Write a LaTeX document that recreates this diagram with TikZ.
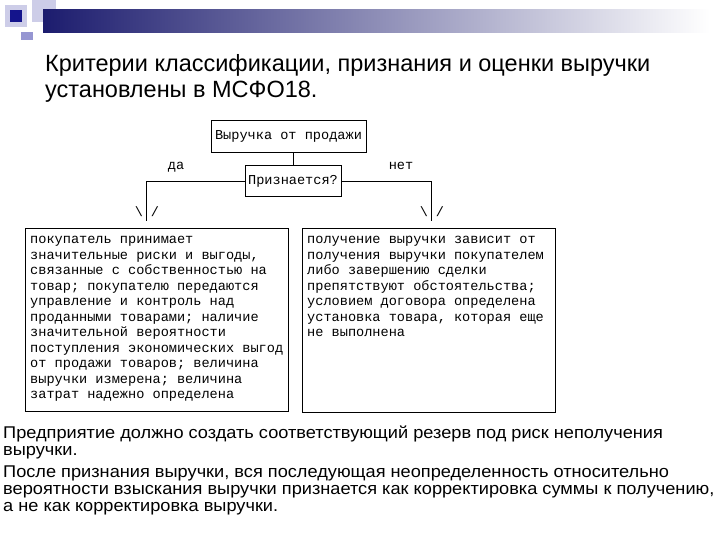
\documentclass[tikz,border=0pt]{standalone}
\usepackage{fontspec}
\setmainfont{Liberation Sans}
\newfontfamily\monofont{Liberation Mono}
\newfontfamily\widefont[FakeStretch=1.07]{Liberation Sans}
\definecolor{navyA}{RGB}{28,28,110}
\definecolor{navyB}{RGB}{150,150,185}
\definecolor{lavA}{RGB}{205,205,232}
\definecolor{lavB}{RGB}{150,150,210}
\definecolor{sqblue}{RGB}{20,20,140}
\tikzset{
  mono/.style={font=\monofont\fontsize{13.6}{15.5}\selectfont},
  box/.style={draw=black, line width=0.9pt, rectangle, inner sep=0pt},
  conn/.style={draw=black, line width=0.9pt},
  monotxt/.style={mono, anchor=north west, align=left, inner sep=0pt},
  titletxt/.style={anchor=base west, inner sep=0pt, font=\fontsize{23.5}{26}\selectfont},
  bodytxt/.style={anchor=base west, inner sep=0pt, font=\widefont\fontsize{17}{17}\selectfont},
}
\begin{document}
\begin{tikzpicture}[x=1pt,y=-1pt]
\useasboundingbox (0,0) rectangle (720,540);
\fill[white] (0,0) rectangle (720,540);
% decoration
\fill[lavA] (32,0) rectangle (56,22);
\fill[lavA] (5,5) rectangle (27,27);
\shade[left color=navyA, middle color=navyB, right color=white] (43,10) rectangle (710,33);
\fill[sqblue] (10,10) rectangle (22,22);
\fill[lavB] (21,32) rectangle (33,40);
% title
\node[titletxt] (title1) at (45,72) {Критерии классификации, признания и оценки выручки};
\node[titletxt] (title2) at (45,98) {установлены в МСФО18.};
% diagram
\node[box, mono, minimum width=155, minimum height=32] (top) at (288.5,136) {Выручка от продажи};
\node[box, mono, minimum width=96, minimum height=31] (q) at (293,181) {Признается?};
\node[mono, inner sep=0pt] (da) at (176,167) {да};
\node[mono, inner sep=0pt] (net) at (401,166) {нет};
\coordinate (la) at (146,221);
\coordinate (ra) at (431,221);
\draw[conn] (top.south -| q.north) -- (q.north);
\draw[conn] (q.west) -| (la);
\draw[conn] (q.east) -| (ra);
\node[mono, inner sep=0pt] (lbs) at (139,212) {\textbackslash};
\node[mono, inner sep=0pt] (lsl) at (155,212) {/};
\node[mono, inner sep=0pt] (rbs) at (424,212) {\textbackslash};
\node[mono, inner sep=0pt] (rsl) at (440,212) {/};
\node[box, anchor=north west, minimum width=263, minimum height=183] (lbox) at (25,228) {};
\node[box, anchor=north west, minimum width=253, minimum height=184] (rbox) at (302,228) {};
\node[monotxt] (ltext) at (30,236) {покупатель принимает\\значительные риски и выгоды,\\связанные с собственностью на\\товар; покупателю передаются\\управление и контроль над\\проданными товарами; наличие\\значительной вероятности\\поступления экономических выгод\\от продажи товаров; величина\\выручки измерена; величина\\затрат надежно определена};
\node[monotxt] (rtext) at (307,236) {получение выручки зависит от\\получения выручки покупателем\\либо завершению сделки\\препятствуют обстоятельства;\\условием договора определена\\установка товара, которая еще\\не выполнена};
% bottom text
\node[bodytxt] (b1) at (3,438) {Предприятие должно создать соответствующий резерв под риск неполучения};
\node[bodytxt] (b2) at (3,455) {выручки.};
\node[bodytxt] (b3) at (3,477) {После признания выручки, вся последующая неопределенность относительно};
\node[bodytxt] (b4) at (3,494) {вероятности взыскания выручки признается как корректировка суммы к получению,};
\node[bodytxt] (b5) at (3,511) {а не как корректировка выручки.};
\end{tikzpicture}
\end{document}
